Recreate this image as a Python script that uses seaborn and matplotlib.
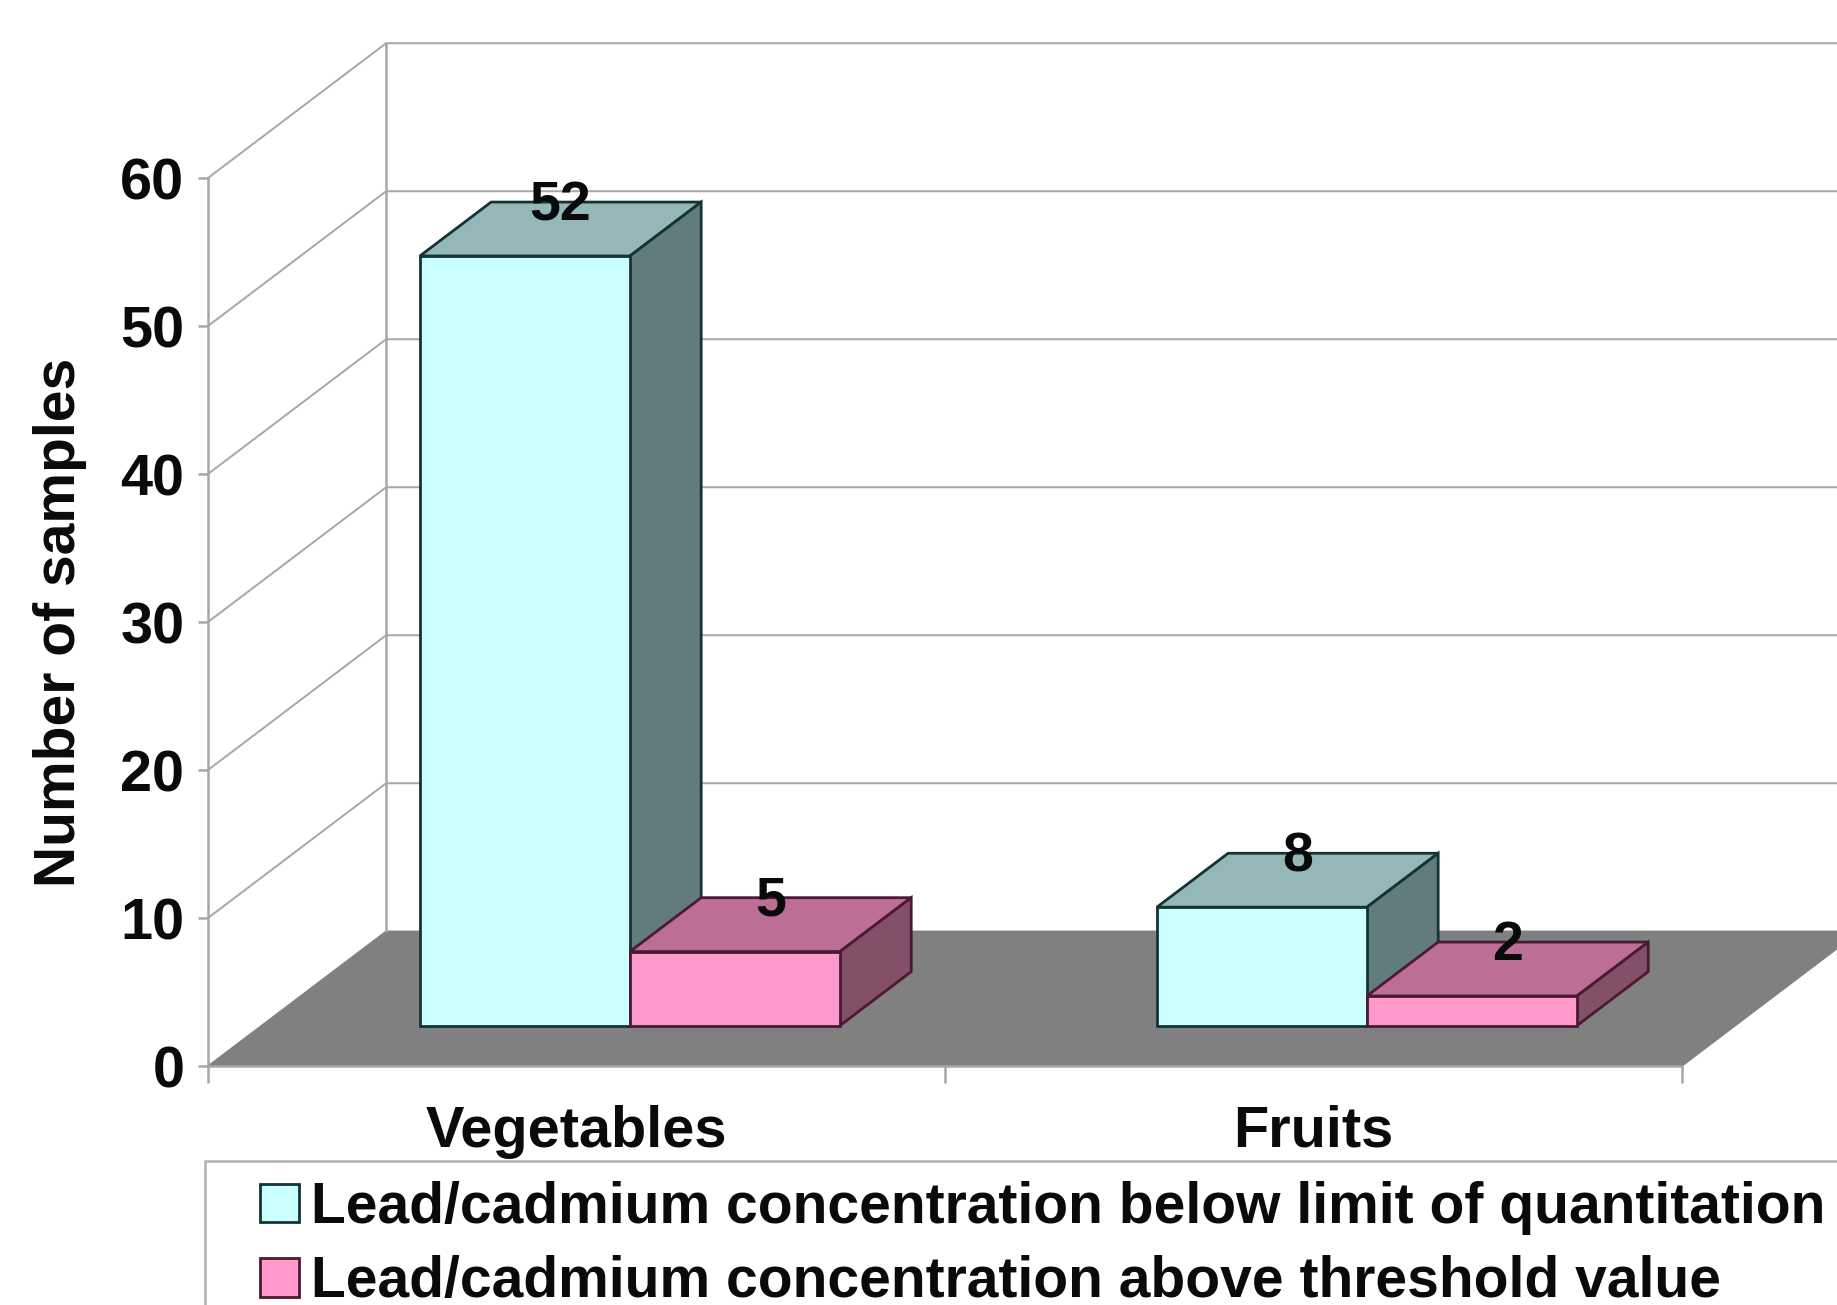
import matplotlib
matplotlib.use("Agg")
import matplotlib.pyplot as plt
import pandas as pd
import seaborn as sns
from matplotlib.patches import Polygon, Rectangle

categories = ["Vegetables", "Fruits"]
series_names = [
    "Lead/cadmium concentration below limit of quantitation",
    "Lead/cadmium concentration above threshold value",
]
below_limit = [52, 8]
above_threshold = [5, 2]
y_ticks = [0, 10, 20, 30, 40, 50, 60]

# face, top, side, edge colours per series
front_colors = ["#CCFFFF", "#FF99CC"]
top_colors = ["#94B8B8", "#BD6E96"]
side_colors = ["#627C7C", "#845068"]
edge_colors = ["#143434", "#4A1A34"]
GRID = "#A6A6A6"
INK = "#0A0A0A"

W, H = 1837, 1305
# depth of the floor, in data units
WALL_DX = 152 / 629
WALL_DY = 115 / 12.63

df = pd.DataFrame({
    "category": categories * 2,
    "samples": below_limit + above_threshold,
    "series": [series_names[0]] * 2 + [series_names[1]] * 2,
})

sns.set_theme(style="white")
plt.rcParams["font.family"] = ["Liberation Sans", "DejaVu Sans"]
plt.rcParams["font.weight"] = "bold"

fig = plt.figure(figsize=(W / 100, H / 100), dpi=100, facecolor="white")
ax = fig.add_axes([208 / W, 1 - 1066 / H, (1682 - 208) / W, (1066 - 178) / H])

sns.barplot(data=df, x="category", y="samples", hue="series", hue_order=series_names,
            palette=front_colors, saturation=1, width=0.57, gap=0, legend=False, ax=ax)
ax.set_xlim(-0.5, 1.5)
ax.set_ylim(0, 60)

# floor and walls
floor = [(-0.5, 0), (1.5, 0), (1.5 + WALL_DX, WALL_DY), (-0.5 + WALL_DX, WALL_DY)]
ax.add_patch(Polygon(floor, closed=True, fc="#808080", ec="#808080", lw=1, zorder=1, clip_on=False))
for v in y_ticks:
    if v > 0:
        ax.plot([-0.5, -0.5 + WALL_DX, 1.5 + WALL_DX], [v, v + WALL_DY, v + WALL_DY],
                color=GRID, lw=1.4, zorder=1, clip_on=False)
ax.plot([-0.5 + WALL_DX] * 2, [WALL_DY, 60 + WALL_DY], color=GRID, lw=1.8, zorder=1, clip_on=False)

# turn flat bars into boxes standing inside the floor
for i, container in enumerate(ax.containers):
    for bar in container:
        x0 = bar.get_x() + 0.3 * WALL_DX
        y0 = 0.3 * WALL_DY
        w, h = bar.get_width(), bar.get_height()
        dx, dy = 0.4 * WALL_DX, 0.4 * WALL_DY
        z = 3 + i
        bar.set_x(x0)
        bar.set_y(y0)
        bar.set(edgecolor=edge_colors[i], linewidth=2, zorder=z + 0.2, clip_on=False)
        top = [(x0, y0 + h), (x0 + w, y0 + h), (x0 + w + dx, y0 + h + dy), (x0 + dx, y0 + h + dy)]
        side = [(x0 + w, y0), (x0 + w + dx, y0 + dy), (x0 + w + dx, y0 + h + dy), (x0 + w, y0 + h)]
        ax.add_patch(Polygon(top, closed=True, fc=top_colors[i], ec=edge_colors[i], lw=2, zorder=z, clip_on=False))
        ax.add_patch(Polygon(side, closed=True, fc=side_colors[i], ec=edge_colors[i], lw=2, zorder=z, clip_on=False))
        ax.annotate(f"{h:.0f}", (x0 + w / 2 + dx / 2, y0 + h + dy), xytext=(0, -3), textcoords="offset points",
                    ha="center", va="center", fontsize=40, fontweight="bold", color=INK, zorder=8)

for s in ["top", "right"]:
    ax.spines[s].set_visible(False)
for s in ["left", "bottom"]:
    ax.spines[s].set_color(GRID)
    ax.spines[s].set_linewidth(1.8)
ax.spines["bottom"].set_zorder(2)

ax.set_yticks(y_ticks)
ax.set_xticks([-0.5, 0.5, 1.5])
ax.set_xticklabels([])
ax.set_xticks([0, 1], labels=categories, minor=True)
ax.tick_params(axis="y", which="major", left=True, length=7, width=1.8, color=GRID,
               labelsize=41.5, pad=10, labelcolor=INK)
ax.tick_params(axis="x", which="major", bottom=True, length=12, width=1.8, color=GRID)
ax.tick_params(axis="x", which="minor", bottom=False, labelsize=41.5, pad=24, labelcolor=INK)
ax.set_xlabel("")
ax.set_ylabel("Number of samples", fontsize=41, fontweight="bold", color=INK, labelpad=24)

# legend frame runs off the right and bottom of the picture
fig.add_artist(Rectangle((205 / W, -0.05), 1.0, 1 - 1161 / H + 0.05, transform=fig.transFigure,
                         fc="white", ec="#B0B0B0", lw=1.8))
font_px = 41 * 100 / 72
leg = fig.legend(handles=list(ax.containers), labels=series_names, loc="upper left",
                 bbox_to_anchor=(260 / W, 1 - 1181 / H), borderaxespad=0, borderpad=0, fontsize=41,
                 frameon=False, handlelength=39 / font_px, handleheight=38 / font_px,
                 handletextpad=12 / font_px, labelspacing=0.36)
for t in leg.get_texts():
    t.set_color(INK)

fig.savefig("out.png", dpi=100, facecolor="white")
